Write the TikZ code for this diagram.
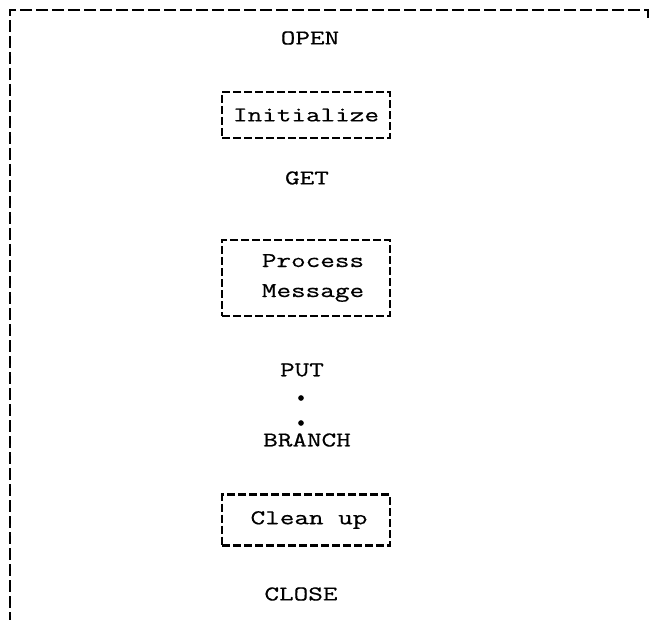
\documentclass[tikz,border=0pt]{standalone}
\usepackage{fontspec}
\setmonofont{Latin Modern Mono}[FakeStretch=1.35,FakeBold=0.6]
\begin{document}
\begin{tikzpicture}[x=1pt,y=-1pt,
  frameline/.style={line width=2.4pt,dash pattern=on 12pt off 4pt},
  boxline/.style={draw,line width=2.2pt,dash pattern=on 8pt off 3pt,
    minimum width=168pt,inner sep=0pt},
  label/.style={font=\ttfamily\fontsize{21}{26}\selectfont,inner sep=0pt}]
\useasboundingbox (0,0) rectangle (650,620);
% outer frame (open at right and bottom)
\coordinate (tl) at (10,10);
\coordinate (tr) at (648,10);
\coordinate (trt) at (648,18);
\coordinate (bl) at (10,620);
\draw[frameline] (trt) -- (tr) -- (tl) -- (bl);
% program steps
\node[label] (open) at (310,38) {OPEN};
\node[label,boxline,minimum height=46pt] (init) at (306,115) {Initialize};
\node[label] (get) at (307,178) {GET};
\node[label,boxline,minimum height=76pt,align=center] (proc) at (306,278)
  {\hspace*{14pt}Process\\[4pt]\hspace*{14pt}Message};
\node[label] (put) at (302,370) {PUT};
\node[circle,fill,inner sep=2pt] (d1) at (301,398) {};
\node[circle,fill,inner sep=2pt] (d2) at (301,423) {};
\node[label] (branch) at (307,440) {BRANCH};
\node[label,boxline,minimum height=51pt] (clean) at (306,520) {\hspace*{6pt}Clean up};
\node[label] (close) at (301,594) {CLOSE};
\end{tikzpicture}
\end{document}
